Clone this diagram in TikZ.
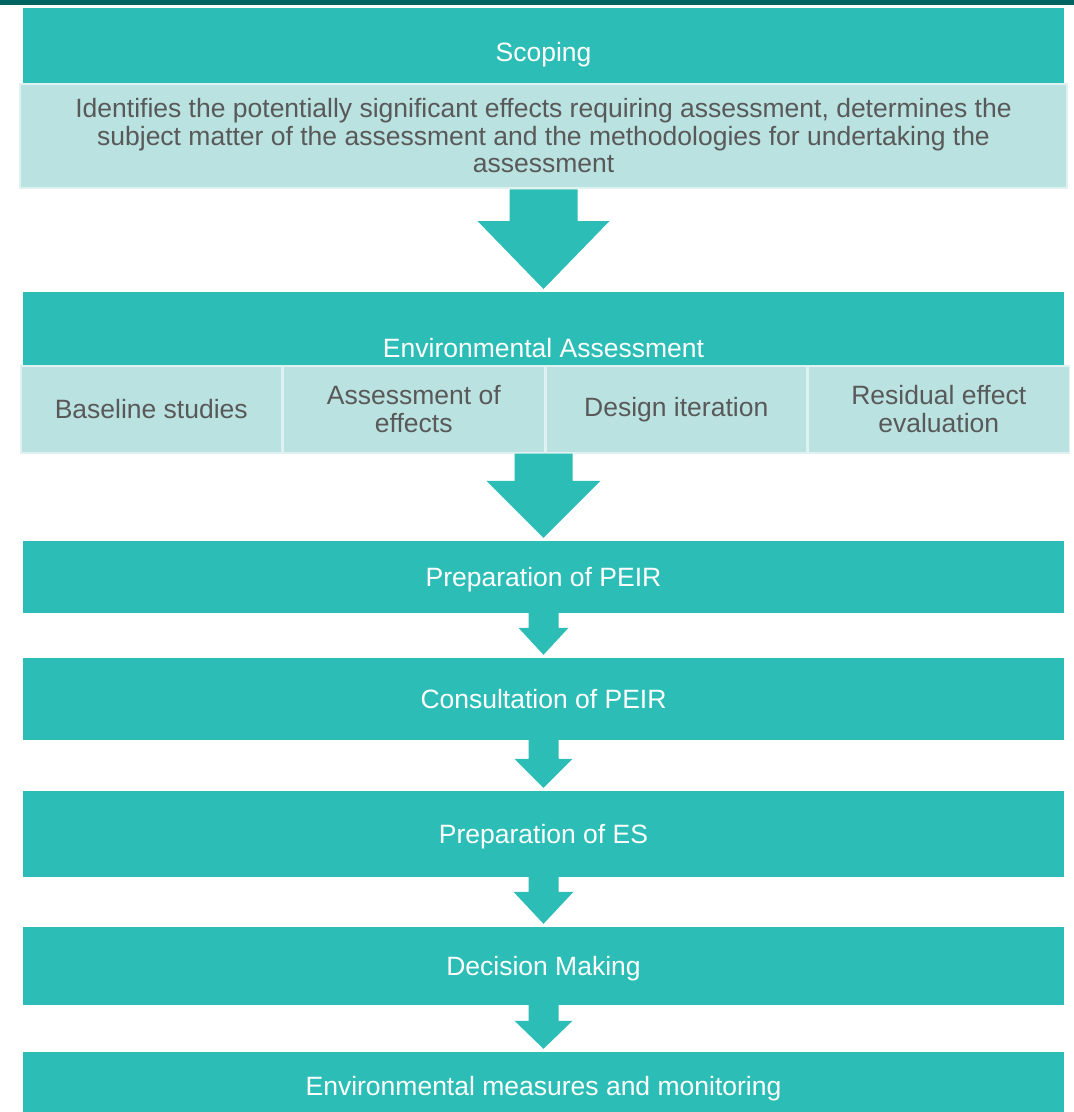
\documentclass[tikz,border=0pt]{standalone}
\usepackage{fontspec}
\setmainfont{Liberation Sans}
\usetikzlibrary{calc,positioning}
\definecolor{stagefill}{HTML}{2CBDB6}
\definecolor{notefill}{HTML}{B9E2E0}
\definecolor{topbar}{HTML}{006562}
\definecolor{notetext}{HTML}{595959}
\tikzset{
  stage/.style = {shape=rectangle, fill=stagefill, text=white,
                  minimum width=1041pt, inner sep=0pt, align=center,
                  text height=19pt, text depth=0pt,
                  font=\fontsize{26.5}{27.5}\selectfont},
  stagetext/.style = {inner sep=0pt, text=white,
                  font=\fontsize{26.5}{27.5}\selectfont},
  note/.style = {shape=rectangle, fill=notefill, text=notetext,
                 draw=white!55!notefill, line width=1.5pt,
                 inner sep=0pt, align=center,
                 font=\fontsize{26.5}{27.5}\selectfont},
  cell/.style = {note, minimum width=261pt, minimum height=87pt},
  flow/.style = {fill=stagefill}
}
% block arrow: from, to, half shaft, half head, head length
\newcommand\flowarrow[5]{%
  \fill[flow] let \p1 = (#1.south), \p2 = (#2.north) in
    (\x2-#3pt,\y1) -- (\x2-#3pt,\y2+#5pt+3pt) -- (\x2-#4pt,\y2+#5pt+3pt)
    -- (\x2,\y2+3pt) -- (\x2+#4pt,\y2+#5pt+3pt) -- (\x2+#3pt,\y2+#5pt+3pt)
    -- (\x2+#3pt,\y1) -- cycle;}

\begin{document}
\begin{tikzpicture}[x=1pt, y=-1pt]
  \useasboundingbox (0,0) rectangle (1074,1112);
  \fill[topbar] (0,0) rectangle (1074,5);

  % scoping
  \node[stage, minimum height=181pt, anchor=north] (scoping) at (543.5,8) {};
  \node[stagetext, anchor=base] (scopingtitle) at (543.5,61) {Scoping};
  \node[note, minimum width=1047pt, minimum height=104pt, anchor=north]
    (scopingnote) at (543.5,83)
    {Identifies the potentially significant effects requiring assessment, determines the\\
     subject matter of the assessment and the methodologies for undertaking the\\
     assessment};

  % environmental assessment
  \node[stage, minimum height=73pt, anchor=north] (ea) at (543.5,292) {};
  \node[stagetext, anchor=base] (eatitle) at (543.5,357) {Environmental Assessment};
  \node[cell, anchor=north west] (baseline) at (20,365) {Baseline studies};
  \node[cell, right=0pt of baseline] (effects) {Assessment of\\effects};
  \node[cell, right=0pt of effects] (iteration) {Design iteration};
  \node[cell, right=0pt of iteration] (residual) {Residual effect\\evaluation};

  % later stages
  \node[stage, minimum height=72pt] (peir) at (543.5,577) {Preparation of PEIR};
  \node[stage, minimum height=82pt] (consult) at (543.5,699) {Consultation of PEIR};
  \node[stage, minimum height=86pt] (es) at (543.5,834) {Preparation of ES};
  \node[stage, minimum height=78pt] (decision) at (543.5,966) {Decision Making};
  \node[stage, minimum height=68pt] (monitor) at (543.5,1086) {Environmental measures and monitoring};

  \flowarrow{scoping}{ea}{34}{66}{68}
  \flowarrow{baseline}{peir}{29}{57}{57}
  \flowarrow{peir}{consult}{15}{25}{27}
  \flowarrow{consult}{es}{15}{29}{29}
  \flowarrow{es}{decision}{15}{30}{32}
  \flowarrow{decision}{monitor}{15}{29}{28}
\end{tikzpicture}
\end{document}
